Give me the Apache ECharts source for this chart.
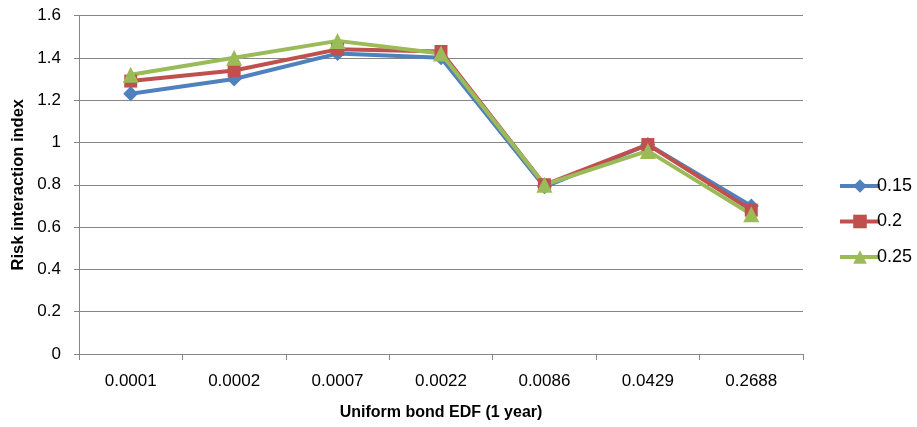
<!DOCTYPE html>
<html>
<head>
<meta charset="utf-8">
<script src="https://cdn.jsdelivr.net/npm/echarts@6/dist/echarts.min.js"></script>
<style>
html,body{margin:0;padding:0;background:#fff;}
#chart{width:917px;height:427px;}
</style>
</head>
<body>
<div id="chart"></div>
<script>
// EDF categories along the x axis
const categories = ['0.0001', '0.0002', '0.0007', '0.0022', '0.0086', '0.0429', '0.2688'];
// Risk interaction index for each correlation level
const series015 = [1.23, 1.30, 1.42, 1.40, 0.79, 0.99, 0.70];
const series020 = [1.29, 1.34, 1.44, 1.43, 0.80, 0.99, 0.68];
const series025 = [1.32, 1.40, 1.48, 1.42, 0.80, 0.96, 0.66];
const seriesNames = ['0.15', '0.2', '0.25'];

const font = '"Liberation Sans", Arial, sans-serif';
const colors = ['#4F81BD', '#C0504D', '#9BBB59'];
const symbols = ['diamond', 'rect', 'triangle'];
const symbolSizes = [15, 13, 16];

const chart = echarts.init(document.getElementById('chart'));
chart.setOption({
  animation: false,
  backgroundColor: '#fff',
  color: colors,
  grid: {
    left: 79, right: 114, top: 15.5, bottom: 73,
    containLabel: false, outerBoundsMode: 'none'
  },
  legend: {
    orient: 'vertical',
    left: 833,
    top: 172,
    itemWidth: 40,
    itemHeight: 17,
    itemGap: 17.5,
    lineStyle: { width: 4 },
    textStyle: { fontFamily: font, fontSize: 18, color: '#000', padding: [0, 0, 0, -8] },
    data: seriesNames
  },
  xAxis: {
    type: 'category',
    data: categories,
    boundaryGap: true,
    name: 'Uniform bond EDF (1 year)',
    nameLocation: 'middle',
    nameGap: 51,
    nameTextStyle: { fontFamily: font, fontSize: 16, fontWeight: 'bold', color: '#000' },
    axisLine: { lineStyle: { color: '#868686', width: 1 } },
    axisTick: { show: true, length: 6, inside: false, lineStyle: { color: '#868686' } },
    axisLabel: { fontFamily: font, fontSize: 17, color: '#000', margin: 19 }
  },
  yAxis: {
    type: 'value',
    min: 0,
    max: 1.6,
    interval: 0.2,
    name: 'Risk interaction index',
    nameLocation: 'middle',
    nameGap: 52,
    nameTextStyle: { fontFamily: font, fontSize: 16.5, fontWeight: 'bold', color: '#000' },
    axisLine: { show: true, lineStyle: { color: '#868686', width: 1 } },
    axisTick: { show: true, length: 5, lineStyle: { color: '#868686' } },
    axisLabel: {
      fontFamily: font, fontSize: 17, color: '#000', margin: 18,
      formatter: v => String(Math.round(v * 10) / 10)
    },
    splitLine: { lineStyle: { color: '#868686', width: 1 } }
  },
  series: [series015, series020, series025].map((d, i) => ({
    name: seriesNames[i],
    type: 'line',
    data: d,
    symbol: symbols[i],
    symbolSize: symbolSizes[i],
    showAllSymbol: true,
    lineStyle: { width: 4, color: colors[i] },
    itemStyle: { color: colors[i] }
  }))
});
</script>
</body>
</html>
